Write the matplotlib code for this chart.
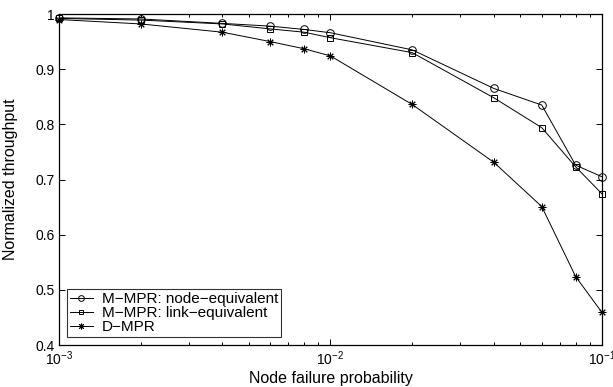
"""ノード故障確率に対する正規化スループットの比較."""

import matplotlib

matplotlib.use("Agg")
import matplotlib.pyplot as plt  # グラフ描画
from matplotlib.ticker import FormatStrFormatter, LogLocator

# データ
p_fail = [0.001, 0.002, 0.004, 0.006, 0.008, 0.01, 0.02, 0.04, 0.06, 0.08, 0.1]
node_equiv = [0.993, 0.991, 0.983, 0.978, 0.972, 0.966, 0.935, 0.865, 0.835, 0.726, 0.705]
link_equiv = [0.992, 0.989, 0.982, 0.973, 0.967, 0.957, 0.930, 0.848, 0.794, 0.723, 0.674]
d_mpr = [0.990, 0.982, 0.967, 0.950, 0.937, 0.924, 0.836, 0.731, 0.651, 0.524, 0.459]
labels = ["M\u2212MPR: node\u2212equivalent", "M\u2212MPR: link\u2212equivalent", "D\u2212MPR"]

plt.rcParams["font.family"] = ["Liberation Sans", "DejaVu Sans"]

fig = plt.figure(figsize=(6.13, 3.87), dpi=100)
ax = fig.add_axes([0.0963, 0.1085, 0.8857, 0.8553])

lw = 0.7
ax.plot(p_fail, node_equiv, color="k", lw=lw, marker="o", ms=5.5,
        mfc="none", mec="k", mew=0.7, label=labels[0], clip_on=False)
ax.plot(p_fail, link_equiv, color="k", lw=lw, marker="s", ms=4.5,
        mfc="none", mec="k", mew=0.7, label=labels[1], clip_on=False)
ax.plot(p_fail, d_mpr, color="k", lw=lw, marker=(8, 2, 0), ms=5.5,
        mec="k", mew=0.7, label=labels[2], clip_on=False)

ax.set_xscale("log")
ax.set_xlim(1e-3, 1e-1)
ax.set_ylim(0.4, 1.0)
ax.set_yticks([0.4, 0.5, 0.6, 0.7, 0.8, 0.9, 1.0])
ax.yaxis.set_major_formatter(FormatStrFormatter("%g"))
ax.xaxis.set_minor_locator(LogLocator(base=10, subs=range(2, 10)))

# MATLAB風の内向き目盛り
ax.tick_params(which="both", direction="in", top=True, right=True,
               labelsize=10, width=0.7)
ax.tick_params(which="major", length=4, pad=3)
ax.tick_params(which="minor", length=2)
for s in ax.spines.values():
    s.set_linewidth(0.9)

ax.set_xlabel("Node failure probability", fontsize=11.5)
ax.set_ylabel("Normalized throughput", fontsize=11.5)
ax.xaxis.set_label_coords(0.5, -0.08)
ax.yaxis.set_label_coords(-0.075, 0.5)

leg = ax.legend(loc="lower left", fontsize=11, frameon=True, fancybox=False,
                edgecolor="k", borderpad=0.2, labelspacing=0.0,
                handlelength=1.5, handletextpad=0.6, borderaxespad=0.5,
                markerscale=0.75)
leg.get_frame().set_linewidth(0.8)

fig.savefig("out.png", dpi=100)
